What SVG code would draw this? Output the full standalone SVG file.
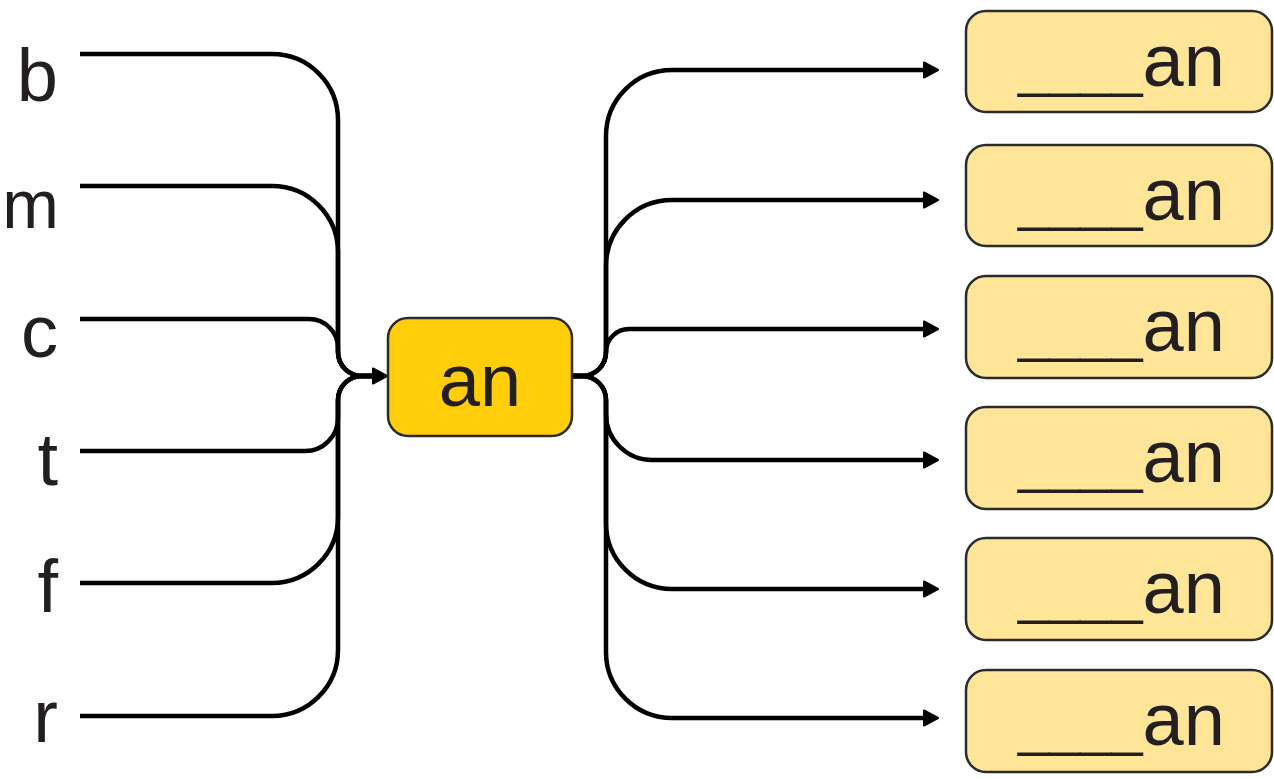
<svg xmlns="http://www.w3.org/2000/svg" width="1274" height="779" viewBox="0 0 1274 779">
<style>
.lbl{font-family:"Liberation Sans",Arial,sans-serif;font-size:74px;fill:#231f20}
.us{font-size:56px}
.box{fill:#FFE597;stroke:#2b2b2b;stroke-width:2.5}
.cbox{fill:#FFCD0A;stroke:#2b2b2b;stroke-width:2.5}
.con{fill:none;stroke:#000;stroke-width:4.5;stroke-linecap:butt;stroke-linejoin:round}
</style>
<defs>
<marker id="ah" markerUnits="userSpaceOnUse" markerWidth="20" markerHeight="20" refX="7" refY="10" orient="auto">
<path d="M1,2.5 L15,10 L1,17.5 Z" fill="#000" stroke="#000" stroke-width="2" stroke-linejoin="round"/>
</marker>
</defs>
<rect width="1274" height="779" fill="#fff"/>
<g id="connectors">
<path class="con" d="M80,54 H272 A66,66 0 0 1 338,120 V352 A24,24 0 0 0 362,376 H379" marker-end="url(#ah)"/>
<path class="con" d="M80,186 H272 A66,66 0 0 1 338,252 V352 A24,24 0 0 0 362,376 H379"/>
<path class="con" d="M80,319 H309 A29,29 0 0 1 338,348 V352 A24,24 0 0 0 362,376 H379"/>
<path class="con" d="M80,451 H305 A33,33 0 0 0 338,418 V400 A24,24 0 0 1 362,376 H379"/>
<path class="con" d="M80,583 H272 A66,66 0 0 0 338,517 V400 A24,24 0 0 1 362,376 H379"/>
<path class="con" d="M80,716 H272 A66,66 0 0 0 338,650 V400 A24,24 0 0 1 362,376 H379"/>
<path class="con" d="M572,376 H582 A24,24 0 0 0 606,352 V136 A66,66 0 0 1 672,70 H930" marker-end="url(#ah)"/>
<path class="con" d="M572,376 H582 A24,24 0 0 0 606,352 V266 A66,66 0 0 1 672,200 H930" marker-end="url(#ah)"/>
<path class="con" d="M572,376 H582 A24,24 0 0 0 606,352 A23,23 0 0 1 629,329 H930" marker-end="url(#ah)"/>
<path class="con" d="M572,376 H582 A24,24 0 0 1 606,400 V414 A46,46 0 0 0 652,460 H930" marker-end="url(#ah)"/>
<path class="con" d="M572,376 H582 A24,24 0 0 1 606,400 V523 A66,66 0 0 0 672,589 H930" marker-end="url(#ah)"/>
<path class="con" d="M572,376 H582 A24,24 0 0 1 606,400 V652 A66,66 0 0 0 672,718 H930" marker-end="url(#ah)"/>
</g>
<g id="src-b"><text class="lbl" x="58" y="101" text-anchor="end">b</text></g>
<g id="src-m"><text class="lbl" x="59" y="228" text-anchor="end" style="font-size:68px">m</text></g>
<g id="src-c"><text class="lbl" x="58" y="357" text-anchor="end">c</text></g>
<g id="src-t"><text class="lbl" x="58" y="485" text-anchor="end">t</text></g>
<g id="src-f"><text class="lbl" x="58" y="612" text-anchor="end">f</text></g>
<g id="src-r"><text class="lbl" x="58" y="742" text-anchor="end">r</text></g>
<g id="center">
<rect class="cbox" x="388" y="318" width="184" height="118" rx="20"/>
<text class="lbl" x="480" y="406" text-anchor="middle">an</text>
</g>
<g id="out1"><rect class="box" x="966" y="11" width="306" height="101" rx="20"/><text class="lbl" x="1018" y="86"><tspan class="us">____</tspan>an</text></g>
<g id="out2"><rect class="box" x="966" y="145" width="306" height="101" rx="20"/><text class="lbl" x="1018" y="220"><tspan class="us">____</tspan>an</text></g>
<g id="out3"><rect class="box" x="966" y="276" width="306" height="102" rx="20"/><text class="lbl" x="1018" y="351"><tspan class="us">____</tspan>an</text></g>
<g id="out4"><rect class="box" x="966" y="407" width="306" height="102" rx="20"/><text class="lbl" x="1018" y="482"><tspan class="us">____</tspan>an</text></g>
<g id="out5"><rect class="box" x="966" y="538" width="306" height="102" rx="20"/><text class="lbl" x="1018" y="613"><tspan class="us">____</tspan>an</text></g>
<g id="out6"><rect class="box" x="966" y="670" width="306" height="102" rx="20"/><text class="lbl" x="1018" y="745"><tspan class="us">____</tspan>an</text></g>
</svg>
